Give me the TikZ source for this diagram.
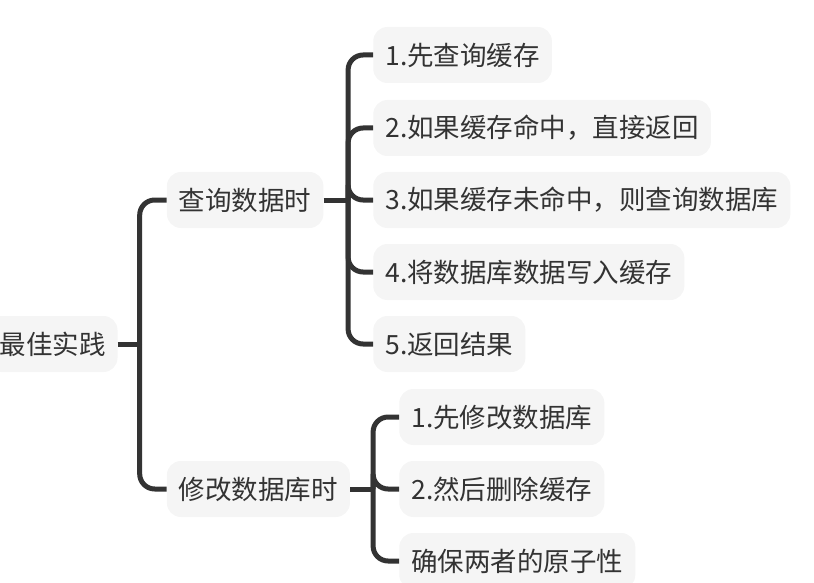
\documentclass[tikz,border=0pt]{standalone}
\usepackage{fontspec}
\setmainfont{Noto Sans CJK SC}
\usetikzlibrary{positioning}
\definecolor{lnc}{HTML}{333333}
\definecolor{bgc}{HTML}{F5F5F5}

\begin{document}
\begin{tikzpicture}[x=1pt,y=-1pt,
    mnode/.style={fill=bgc,rounded corners=14pt,minimum height=56pt,inner xsep=12pt,
      font=\fontsize{26.5pt}{30pt}\selectfont,text=lnc},
    link/.style={draw=lnc,line width=5pt,rounded corners=15pt}]
 \useasboundingbox (0,0) rectangle (814,583);
 \node[mnode] (BP) at (52.5,344) {最佳实践};
 \node[mnode,right=49pt of BP,yshift=144pt] (QD) {查询数据时};
 \node[mnode,right=49pt of BP,yshift=-145pt] (MD) {修改数据库时};
 \node[mnode,right=49.5pt of QD,yshift=145pt] (QD-1) {1.先查询缓存};
 \node[mnode,right=49.5pt of QD,yshift=72pt] (QD-2) {2.如果缓存命中，直接返回};
 \node[mnode,right=49.5pt of QD] (QD-3) {3.如果缓存未命中，则查询数据库};
 \node[mnode,right=49.5pt of QD,yshift=-72pt] (QD-4) {4.将数据库数据写入缓存};
 \node[mnode,right=49.5pt of QD,yshift=-144pt] (QD-5) {5.返回结果};
 \node[mnode,right=49pt of MD,yshift=72pt] (MD-1) {1.先修改数据库};
 \node[mnode,right=49pt of MD] (MD-2) {2.然后删除缓存};
 \node[mnode,right=49pt of MD,yshift=-72pt] (MD-3) {确保两者的原子性};
 \coordinate[right=22pt of BP] (BJ);
 \coordinate[right=24.5pt of QD] (QJ);
 \coordinate[right=23pt of MD] (MJ);
 \draw[link] (BP.east) -- (BJ);
 \foreach \X in {QD,MD} \draw[link] (BJ) |- (\X.west);
 \draw[link] (QD.east) -- (QJ);
 \foreach \X in {1,...,5} \draw[link] (QJ) |- (QD-\X.west);
 \draw[link] (MD.east) -- (MJ);
 \foreach \X in {1,...,3} \draw[link] (MJ) |- (MD-\X.west);
\end{tikzpicture}
\end{document}
